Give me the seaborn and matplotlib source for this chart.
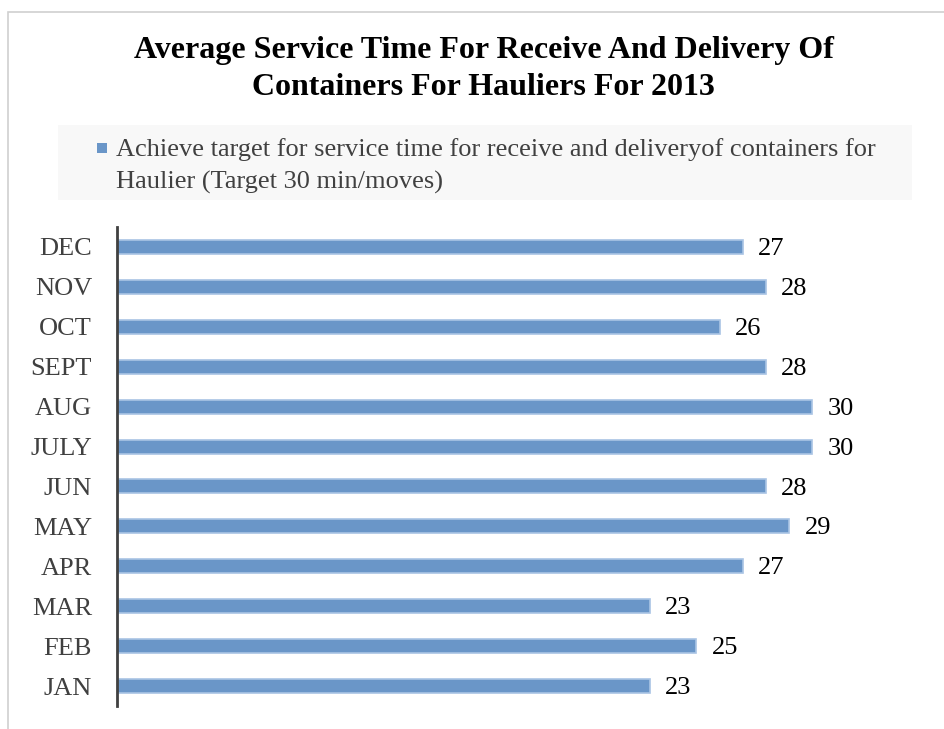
import matplotlib
matplotlib.use("Agg")
import matplotlib.pyplot as plt
import seaborn as sns
import pandas as pd
from matplotlib.patches import Rectangle

months = ["DEC", "NOV", "OCT", "SEPT", "AUG", "JULY", "JUN", "MAY", "APR", "MAR", "FEB", "JAN"]
values = [27, 28, 26, 28, 30, 30, 28, 29, 27, 23, 25, 23]
title = "Average Service Time For Receive And Delivery Of\nContainers For Hauliers For 2013"
legend_label = "Achieve target for service time for receive and deliveryof containers for\nHaulier (Target 30 min/moves)"

sns.set_theme(style="white")
plt.rcParams["font.family"] = ["Liberation Serif", "DejaVu Serif"]

W, H = 945, 729
fig = plt.figure(figsize=(W / 100, H / 100), dpi=100)
fig.patch.set_facecolor("white")

def fx(px):
    return px / W

def fy(py):
    return 1 - py / H

# outer frame
fig.patches.append(Rectangle((fx(8), -0.05), 1.1, fy(12) + 0.05, transform=fig.transFigure,
                             fill=False, edgecolor="#d0d0d0", linewidth=1.2))

# legend background
fig.patches.append(Rectangle((fx(58), fy(200)), fx(912) - fx(58), fy(125) - fy(200),
                             transform=fig.transFigure, facecolor="#f8f8f8", edgecolor="none"))

bar_color = "#6A96C8"
fig.patches.append(Rectangle((fx(97), fy(153)), fx(10), 10 / H, transform=fig.transFigure,
                             facecolor=bar_color, edgecolor="none"))
fig.text(fx(116), fy(166), legend_label, fontsize=19, color="#404040", va="center",
         ha="left", linespacing=1.55)

fig.text(0.512, fy(69), title, fontsize=23, fontweight="bold", ha="center", va="center",
         color="black", linespacing=1.4)

ax = fig.add_axes([fx(117), fy(706), fx(905) - fx(117), (706 - 227) / H])
df = pd.DataFrame({"month": months, "value": values})
sns.barplot(data=df, x="value", y="month", orient="h", color=bar_color, saturation=1,
            width=0.35, edgecolor="#A9C4E4", linewidth=1.2, ax=ax)
ax.set_xlim(0, 34)
ax.set_xlabel("")
ax.set_ylabel("")
ax.set_xticks([])
for s in ["top", "right", "bottom"]:
    ax.spines[s].set_visible(False)
ax.spines["left"].set_color("#404040")
ax.spines["left"].set_linewidth(2)
ax.tick_params(axis="y", length=0, pad=18, labelsize=19, labelcolor="#404040")
ax.set_facecolor("none")
for i, v in enumerate(values):
    ax.annotate(str(v), xy=(v, i), xytext=(11, -1.5), textcoords="offset points",
                ha="left", va="center", fontsize=19, color="black")

fig.savefig("out.png", dpi=100)
